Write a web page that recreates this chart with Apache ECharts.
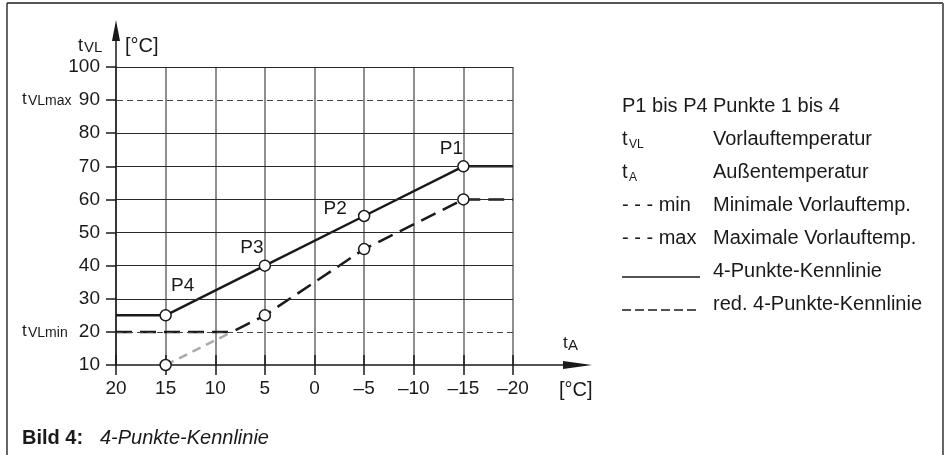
<!DOCTYPE html>
<html><head><meta charset="utf-8">
<script src="https://cdn.jsdelivr.net/npm/echarts@6/dist/echarts.min.js"></script>
<style>html,body{margin:0;padding:0;background:#fff}#c{width:946px;height:455px}</style>
</head><body><div id="c"></div>
<script>
// ---- data ----
const xMin = -20, xMax = 20, xStep = 5;
const yMin = 10, yMax = 100, yStep = 10;
const solidX = [20, 15, 5, -5, -15, -20];
const solidY = [25, 25, 40, 55, 70, 70];
const redX = [20, 8.3, 5, -5, -15, -20];
const redY = [20, 20, 25, 45, 60, 60];
const extX = [15, 8.3];
const extY = [10, 20];
const pointX = [15, 5, -5, -15];
const pointSolidY = [25, 40, 55, 70];
const pointRedY = [10, 25, 45, 60];
const pointNames = ['P4', 'P3', 'P2', 'P1'];
const gridSolidY = [30, 40, 50, 60, 70, 80, 100];
const gridDashedY = [20, 90];
const legendDescs = ['Punkte 1 bis 4', 'Vorlauftemperatur', 'Außentemperatur',
  'Minimale Vorlauftemp.', 'Maximale Vorlauftemp.', '4-Punkte-Kennlinie', 'red. 4-Punkte-Kennlinie'];

const FONT = '"Liberation Sans", Arial, sans-serif';
const INK = '#1a1a1a';
const pairs = (xs, ys) => xs.map((x, i) => [x, ys[i]]);
const fmt = v => v < 0 ? '\u2013' + Math.abs(v) : String(v);

const labelOffsets = [[17, -9], [-13, 3], [-29, 14], [-12, 3]];

const chart = echarts.init(document.getElementById('c'), null, {renderer: 'canvas'});
const baseX = {
  type: 'value', min: xMin, max: xMax, interval: xStep, inverse: true, position: 'bottom', gridIndex: 0
};
chart.setOption({
  animation: false,
  backgroundColor: '#fff',
  textStyle: {fontFamily: FONT},
  grid: {left: 116, right: 433, top: 67, bottom: 90, containLabel: false},
  xAxis: [
    Object.assign({}, baseX, {
      axisLine: {show: true, onZero: false, lineStyle: {color: INK, width: 1.5}},
      axisTick: {show: true, length: 10, lineStyle: {color: INK, width: 1.5}},
      axisLabel: {formatter: fmt, fontSize: 19, color: INK, margin: 14, fontFamily: FONT},
      splitLine: {show: true, lineStyle: {color: '#6a6a6a', width: 1.5}}
    }),
    Object.assign({}, baseX, {
      axisLine: {show: false, onZero: false},
      axisTick: {show: true, inside: true, length: 10, lineStyle: {color: INK, width: 1.5}},
      axisLabel: {show: false},
      splitLine: {show: false}
    })
  ],
  yAxis: {
    type: 'value', min: yMin, max: yMax, interval: yStep, position: 'left',
    axisLine: {show: true, onZero: false, lineStyle: {color: INK, width: 1.5}},
    axisTick: {show: true, length: 10, lineStyle: {color: INK, width: 1.5}},
    axisLabel: {fontSize: 19, color: INK, margin: 16, fontFamily: FONT},
    splitLine: {show: false}
  },
  series: [
    {
      type: 'line', data: [], z: 1, silent: true,
      markLine: {
        silent: true, symbol: ['none', 'none'], label: {show: false}, animation: false,
        data: gridSolidY.map(v => ({yAxis: v, lineStyle: {color: '#2a2a2a', width: 1.2, type: 'solid'}}))
          .concat(gridDashedY.map(v => ({yAxis: v, lineStyle: {color: '#444', width: 1, type: [6, 4]}})))
      }
    },
    {
      type: 'line', data: pairs(extX, extY), z: 2, symbol: 'none',
      lineStyle: {color: '#aaaaaa', width: 2.5, type: [9, 6]}
    },
    {
      type: 'line', data: pairs(redX, redY), z: 3, symbol: 'none',
      lineStyle: {color: INK, width: 2.5, type: [16, 8]}
    },
    {
      type: 'line', data: pairs(solidX, solidY), z: 3, symbol: 'none',
      lineStyle: {color: INK, width: 2.5}
    },
    {
      type: 'scatter', z: 5, symbol: 'circle', symbolSize: 11,
      itemStyle: {color: '#fff', borderColor: INK, borderWidth: 1.5, opacity: 1},
      data: pointX.map((x, i) => ({
        value: [x, pointSolidY[i]], name: pointNames[i],
        label: {show: true, position: 'top', offset: labelOffsets[i], formatter: '{b}',
          fontSize: 19, color: INK, fontFamily: FONT}
      }))
    },
    {
      type: 'scatter', z: 5, symbol: 'circle', symbolSize: 11,
      itemStyle: {color: '#fff', borderColor: INK, borderWidth: 1.5, opacity: 1},
      data: pairs(pointX, pointRedY)
    }
  ]
});

// ---- decorations: axis arrows, names, legend, frame, caption ----
const o = chart.convertToPixel({gridIndex: 0}, [xMax, yMin]);
const tr = chart.convertToPixel({gridIndex: 0}, [xMin, yMax]);
const yTip = tr[1] - 47, xTip = tr[0] + 79;
const T = (text, x, y, size, opts) => Object.assign({
  type: 'text', z: 20,
  style: Object.assign({text: text, x: x, y: y, fill: INK, font: size + 'px ' + FONT,
    textAlign: 'left', textVerticalAlign: 'middle'}, (opts || {}))
});
const els = [];
// frame
els.push({type: 'line', z: 20, shape: {x1: 7, y1: 3, x2: 943, y2: 3}, style: {stroke: '#555', lineWidth: 2}});
els.push({type: 'line', z: 20, shape: {x1: 7, y1: 3, x2: 7, y2: 455}, style: {stroke: '#333', lineWidth: 1.5}});
els.push({type: 'line', z: 20, shape: {x1: 943, y1: 3, x2: 943, y2: 455}, style: {stroke: '#666', lineWidth: 2}});
// axis extensions with arrows
els.push({type: 'line', z: 20, shape: {x1: o[0], y1: tr[1], x2: o[0], y2: yTip + 10}, style: {stroke: INK, lineWidth: 1.5}});
els.push({type: 'polygon', z: 20, shape: {points: [[o[0], yTip], [o[0] - 4, yTip + 21], [o[0] + 4, yTip + 21]]}, style: {fill: INK}});
els.push({type: 'line', z: 20, shape: {x1: tr[0], y1: o[1], x2: xTip - 10, y2: o[1]}, style: {stroke: INK, lineWidth: 1.5}});
els.push({type: 'polygon', z: 20, shape: {points: [[xTip, o[1]], [xTip - 29, o[1] - 4], [xTip - 29, o[1] + 4]]}, style: {fill: INK}});
// axis names
els.push(T('t', 78, 46, 18));
els.push(T('VL', 84, 48, 15));
els.push(T('[°C]', 125, 46, 20));
els.push(T('t', 22, 99, 17));
els.push(T('VLmax', 28, 101, 14));
els.push(T('t', 22, 331, 17));
els.push(T('VLmin', 28, 333, 14));
els.push(T('t', 563, 343, 17));
els.push(T('A', 568, 346, 15));
els.push(T('[°C]', 559, 390, 20));
// legend
const lx1 = 622, lx2 = 713, ly0 = 106, lstep = 33;
const LF = 20;
els.push(T('P1 bis P4', lx1, ly0, LF));
els.push(T('t', lx1, ly0 + lstep, LF));
els.push(T('VL', lx1 + 7, ly0 + lstep + 6, 12));
els.push(T('t', lx1, ly0 + 2 * lstep, LF));
els.push(T('A', lx1 + 7, ly0 + 2 * lstep + 6, 12));
els.push(T('- - - min', lx1, ly0 + 3 * lstep, LF));
els.push(T('- - - max', lx1, ly0 + 4 * lstep, LF));
els.push({type: 'line', z: 20, shape: {x1: lx1, y1: ly0 + 5 * lstep + 6, x2: 700, y2: ly0 + 5 * lstep + 6}, style: {stroke: INK, lineWidth: 1.5}});
els.push({type: 'line', z: 20, shape: {x1: lx1, y1: ly0 + 6 * lstep + 6, x2: 698, y2: ly0 + 6 * lstep + 6}, style: {stroke: INK, lineWidth: 1.5, lineDash: [9, 4]}});
legendDescs.forEach((d, i) => els.push(T(d, lx2, ly0 + i * lstep, LF)));
// caption
els.push(T('Bild 4:', 22, 438, 20, {font: 'bold 20px ' + FONT}));
els.push(T('4-Punkte-Kennlinie', 100, 438, 20, {font: 'italic 20px ' + FONT}));
chart.setOption({graphic: {elements: els}});
</script>
</body></html>
